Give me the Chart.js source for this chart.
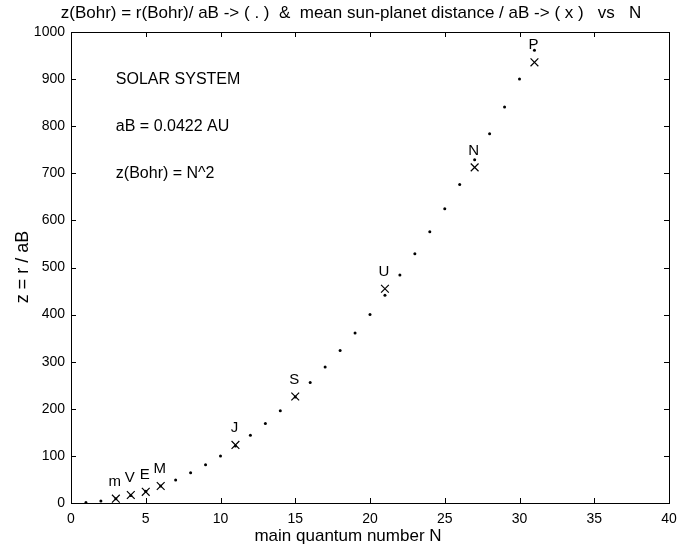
<!DOCTYPE html>
<html><head><meta charset="utf-8">
<script src="https://cdn.jsdelivr.net/npm/chart.js@4"></script>
<style>html,body{margin:0;padding:0;background:#fff}</style>
</head><body>
<canvas id="c" width="692" height="546"></canvas>
<script>
const bohrN = [1,2,3,4,5,6,7,8,9,10,11,12,13,14,15,16,17,18,19,20,21,22,23,24,25,26,27,28,29,30,31];
const bohrZ = [1,4,9,16,25,36,49,64,81,100,121,144,169,196,225,256,289,324,361,400,441,484,529,576,625,676,729,784,841,900,961];
const planetNames = ['m','V','E','M','J','S','U','N','P'];
const planetN = [3,4,5,6,11,15,21,27,31];
const planetZ = [9.2,17.1,23.7,36.1,123.3,226,454.8,712.6,935.6];
const xTicks = [0,5,10,15,20,25,30,35,40];
const yTicks = [0,100,200,300,400,500,600,700,800,900,1000];
const notes = [['SOLAR SYSTEM',900],['aB = 0.0422 AU',800],['z(Bohr) = N^2',700]];
const titleText = 'z(Bohr) = r(Bohr)/ aB -> ( . )  &  mean sun-planet distance / aB -> ( x )   vs   N';
const FONT = '"Liberation Sans", Arial, Helvetica, sans-serif';

const deco = {
  id: 'deco',
  afterDraw(chart) {
    const ctx = chart.ctx, a = chart.chartArea, xs = chart.scales.x, ys = chart.scales.y;
    ctx.save();
    ctx.strokeStyle = '#000'; ctx.lineWidth = 1;
    ctx.strokeRect(Math.round(a.left)+0.5, Math.round(a.top)+0.5, Math.round(a.right-a.left), Math.round(a.bottom-a.top));
    ctx.beginPath();
    const tl = 5;
    xTicks.forEach(v => {
      const px = Math.round(xs.getPixelForValue(v))+0.5;
      ctx.moveTo(px, a.bottom); ctx.lineTo(px, a.bottom - tl);
      ctx.moveTo(px, a.top); ctx.lineTo(px, a.top + tl);
    });
    yTicks.forEach(v => {
      const py = Math.round(ys.getPixelForValue(v))+0.5;
      ctx.moveTo(a.left, py); ctx.lineTo(a.left + tl, py);
      ctx.moveTo(a.right, py); ctx.lineTo(a.right - tl, py);
    });
    ctx.stroke();
    ctx.fillStyle = '#000';
    // title
    ctx.font = '17px ' + FONT;
    ctx.textAlign = 'center'; ctx.textBaseline = 'middle';
    ctx.fillText(titleText, 351, 13);
    // axis titles
    ctx.font = '17px ' + FONT;
    ctx.fillText('main quantum number N', 348, 536);
    ctx.save();
    ctx.translate(23, 267);
    ctx.rotate(-Math.PI/2);
    ctx.font = '18px ' + FONT;
    ctx.fillText('z = r / aB', 0, 0);
    ctx.restore();
    // notes
    ctx.font = '16px ' + FONT;
    ctx.textAlign = 'left';
    notes.forEach(([t, y]) => ctx.fillText(t, xs.getPixelForValue(3), ys.getPixelForValue(y)));
    // planet labels
    ctx.font = '15px ' + FONT;
    ctx.textAlign = 'center';
    planetNames.forEach((nm, i) => {
      ctx.fillText(nm, xs.getPixelForValue(planetN[i]) - 1, ys.getPixelForValue(planetZ[i]) - 17);
    });
    ctx.restore();
  }
};

new Chart(document.getElementById('c'), {
  type: 'scatter',
  data: {
    datasets: [
      { data: bohrN.map((n,i)=>({x:n,y:bohrZ[i]})), pointStyle:'circle', pointRadius:1.5, backgroundColor:'#000', borderColor:'#000', borderWidth:0 },
      { data: planetN.map((n,i)=>({x:n,y:planetZ[i]})), pointStyle:'crossRot', pointRadius:5.5, borderColor:'#000', borderWidth:1.2 }
    ]
  },
  options: {
    responsive: false, animation: false, devicePixelRatio: 1,
    layout: { padding: { top: 32, right: 23, left: 0, bottom: 0 } },
    plugins: { legend: {display:false}, tooltip: {enabled:false}, title: {display:false} },
    scales: {
      x: { type:'linear', min:0, max:40, afterFit(s){ s.height = 43; },
           afterBuildTicks(s){ s.ticks = xTicks.map(v=>({value:v})); },
           grid:{display:false, drawTicks:false}, border:{display:false},
           ticks:{ color:'#000', padding:8, font:{size:14, family:FONT}, maxRotation:0, callback:v=>String(v) } },
      y: { type:'linear', min:0, max:1000, afterFit(s){ s.width = 71; },
           afterBuildTicks(s){ s.ticks = yTicks.map(v=>({value:v})); },
           grid:{display:false, drawTicks:false}, border:{display:false},
           ticks:{ color:'#000', padding:6, font:{size:14, family:FONT}, callback:v=>String(v) } }
    }
  },
  plugins: [deco]
});
</script>
</body></html>
